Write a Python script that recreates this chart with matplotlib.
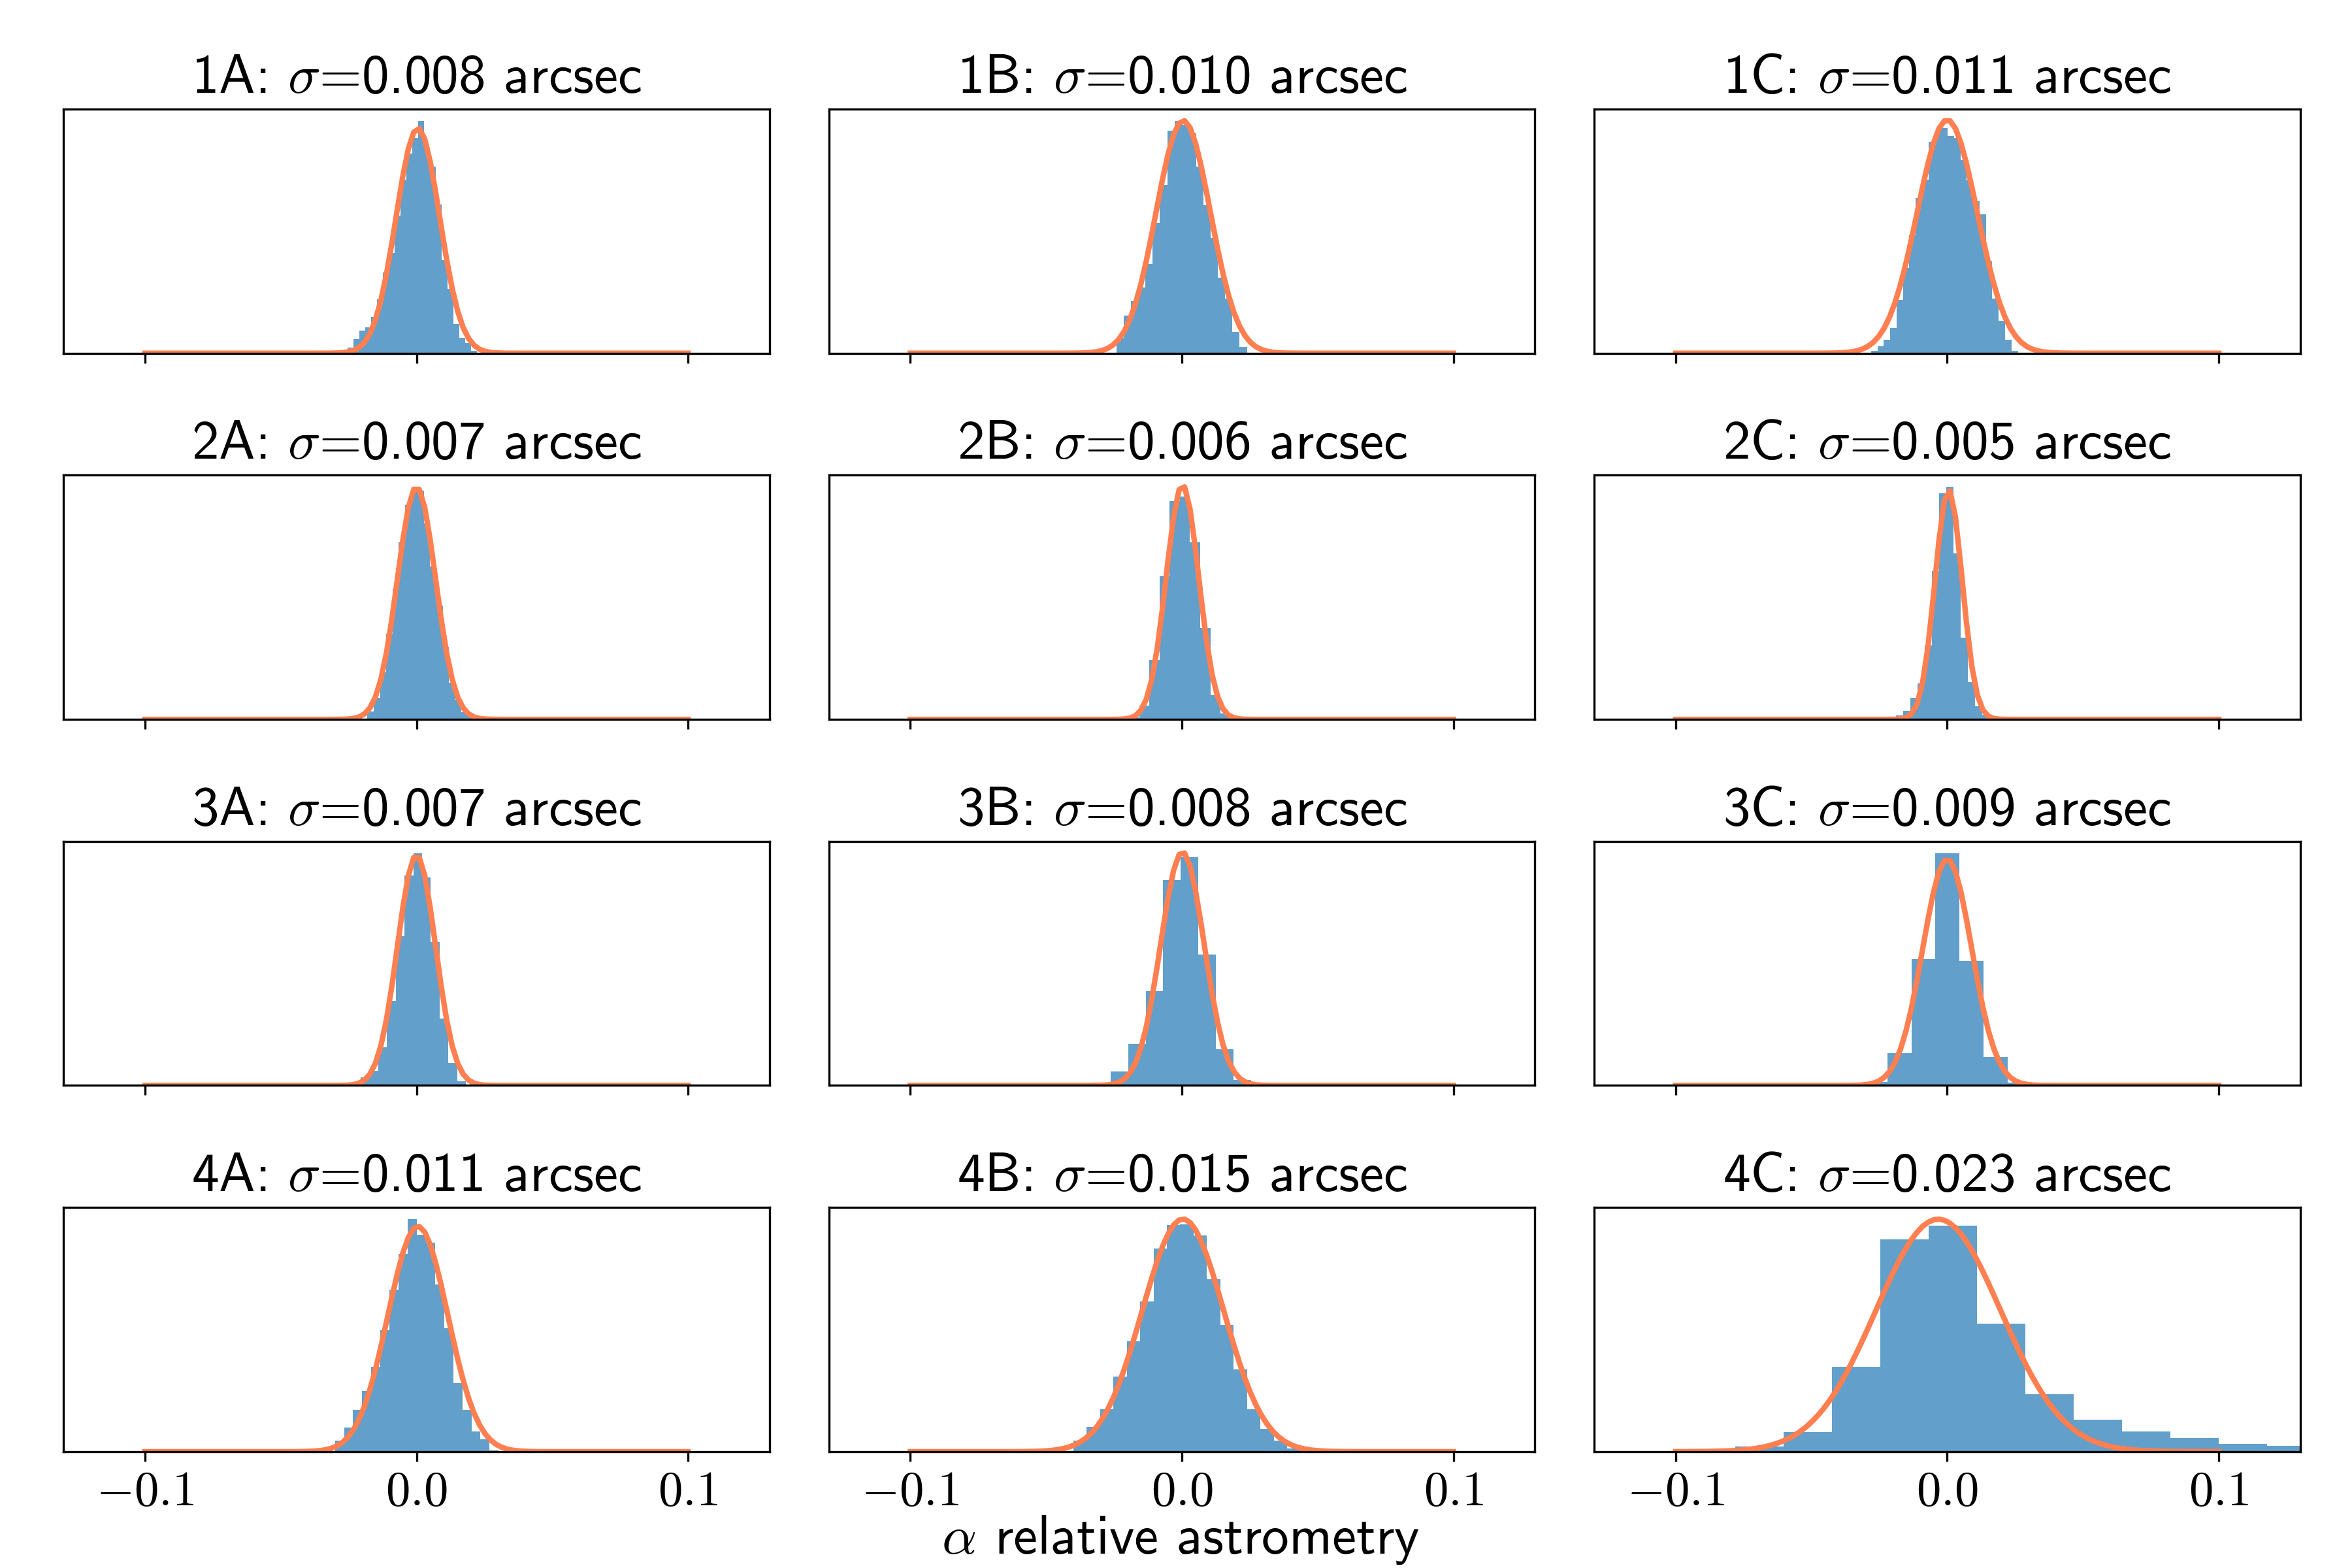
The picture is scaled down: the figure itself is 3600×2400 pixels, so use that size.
import numpy as np
import matplotlib
matplotlib.use("Agg")
import matplotlib.pyplot as plt

plt.rcParams["font.family"] = "cmss10"
plt.rcParams["mathtext.fontset"] = "cm"
plt.rcParams["font.size"] = 18
plt.rcParams["axes.titlesize"] = 20
plt.rcParams["axes.unicode_minus"] = False

# --- panel data ---
names = ["1A", "1B", "1C", "2A", "2B", "2C", "3A", "3B", "3C", "4A", "4B", "4C"]
sigma_txt = ["0.008", "0.010", "0.011", "0.007", "0.006", "0.005",
             "0.007", "0.008", "0.009", "0.011", "0.015", "0.023"]
sigmas = [0.008, 0.010, 0.011, 0.007, 0.006, 0.005,
          0.007, 0.008, 0.009, 0.011, 0.015, 0.023]
means = [0.0005, 0.0005, 0.0, 0.0, 0.0002, 0.0005,
         0.0, 0.0002, 0.0, 0.0005, 0.0004, -0.0033]

# histogram: first bin edge, bin width, bar heights (density)
bin_start = [-0.0255, -0.0241, -0.0304, -0.0181, -0.0195, -0.0214,
             -0.0238, -0.0327, -0.0309, -0.0334, -0.0449, -0.0781]
bin_width = [0.00217, 0.00267, 0.00235, 0.00231, 0.00375, 0.00263,
             0.00323, 0.00646, 0.00885, 0.00335, 0.00492, 0.0178]

h_1a = [1.25, 3.13, 5.0, 5.78, 7.99, 11.94, 17.9, 22.3, 30.5, 38.5, 44.3,
        47.7, 51.5, 45.6, 41.4, 32.9, 20.6, 14.3, 6.4, 3.4, 2.2, 0.6]
h_1b = [2.61, 6.46, 8.89, 11.32, 15.31, 22.41, 28.87, 38.13, 39.81, 39.14,
        37.65, 31.97, 25.43, 19.8, 13.0, 9.37, 3.66, 1.05]
h_1c = [0.1, 0.37, 1.12, 2.14, 3.93, 8.24, 13.25, 18.31, 24.17, 26.95, 32.82,
        34.51, 34.95, 33.73, 33.49, 30.0, 26.88, 23.66, 21.63, 14.24, 8.51,
        5.09, 2.14, 0.37]
h_2a = [2.0, 5.3, 11.6, 21.0, 32.0, 43.5, 52.5, 57.0, 56.0, 48.0, 37.5, 27.9,
        17.8, 9.0, 4.8, 1.8, 0.6]
h_2b = [0.5, 3.9, 16.8, 40.6, 61.9, 63.1, 50.2, 26.0, 6.9, 1.7]
h_2c = [0.2, 1.3, 2.9, 7.4, 12.6, 25.7, 51.4, 78.4, 80.7, 57.6, 28.4, 12.9,
        4.5, 1.7, 0.8]
h_3a = [0.8, 2.0, 3.7, 9.5, 21.0, 37.0, 52.0, 57.5, 51.5, 35.5, 16.5, 5.5, 1.0]
h_3b = [0.56, 2.98, 8.79, 20.1, 43.8, 48.8, 27.9, 7.68, 1.16]
h_3c = [0.72, 6.37, 24.8, 45.5, 24.4, 5.6, 0.59]
h_4a = [0.14, 1.75, 3.93, 6.74, 9.79, 13.7, 19.5, 26.1, 31.8, 37.4, 34.9,
        33.6, 26.9, 19.9, 11.05, 6.74, 3.23, 2.0, 0.25]
h_4b = [0.1, 1.24, 2.83, 4.82, 8.55, 12.6, 17.2, 23.2, 25.9, 26.0, 24.7,
        19.7, 14.5, 9.37, 4.85, 2.59, 1.29, 0.35, 0.1, 0.17]
h_4c = [0.39, 1.47, 6.34, 15.84, 16.85, 9.54, 4.29, 2.39, 1.51, 1.02, 0.6, 0.45]
heights = [h_1a, h_1b, h_1c, h_2a, h_2b, h_2c,
           h_3a, h_3b, h_3c, h_4a, h_4b, h_4c]

tick_vals = [-0.1, 0.0, 0.1]
tick_labels = [r"$-0.1$", r"$0.0$", r"$0.1$"]

fig, axes = plt.subplots(4, 3, figsize=(12, 8), sharex=True)
fig.subplots_adjust(left=0.027, right=0.978, bottom=0.0742, top=0.9304,
                    wspace=0.084, hspace=0.5)

xg = np.linspace(-0.1, 0.1, 100)
for i, ax in enumerate(axes.flat):
    h = np.array(heights[i])
    edges = bin_start[i] + bin_width[i] * np.arange(len(h) + 1)
    centers = 0.5 * (edges[:-1] + edges[1:])
    ax.hist(centers, bins=edges, weights=h, color="C0", alpha=0.7)

    s, m = sigmas[i], means[i]
    g = np.exp(-0.5 * ((xg - m) / s) ** 2) / (s * np.sqrt(2 * np.pi))
    ax.plot(xg, g, color="coral", lw=2)

    ax.set_title(names[i] + r": $\sigma$=" + sigma_txt[i] + " arcsec")
    ax.set_yticks([])
    ax.set_xlim(-0.13, 0.13)
    ax.set_xticks(tick_vals, tick_labels)

fig.text(0.502, 0.018, r"$\alpha$ relative astrometry", ha="center",
         va="center", fontsize=20)

fig.savefig("out.png", dpi=300)
